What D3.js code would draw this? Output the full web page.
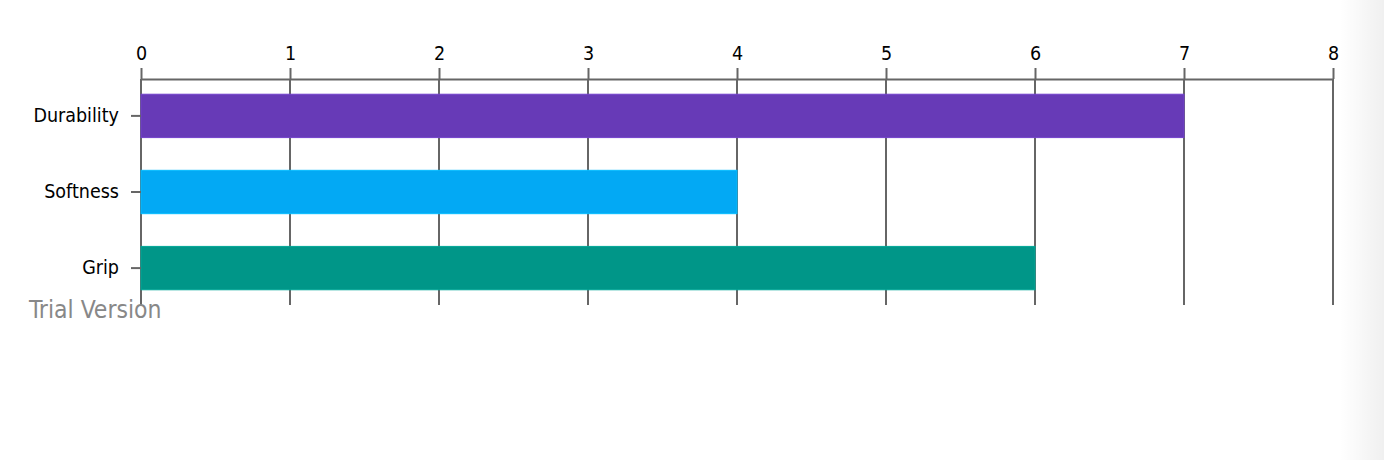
<!DOCTYPE html>
<meta charset="utf-8">
<style>
body { margin: 0; background: #fff; }
svg { display: block; }
svg text { font-family: "DejaVu Sans Condensed", "DejaVu Sans", sans-serif; }
.axis path, .axis line { stroke: #666; stroke-width: 2px; }
.axis text { fill: #000; font-size: 19.5px; }
.grid line { stroke: #666; stroke-width: 2px; }
</style>
<svg width="1384" height="460"></svg>
<script src="https://d3js.org/d3.v7.min.js"></script>
<script>
var categories = ["Durability", "Softness", "Grip"];
var values = [7, 4, 6];
var colors = ["#673AB7", "#03A9F4", "#009688"];
var xTicks = [0, 1, 2, 3, 4, 5, 6, 7, 8];

var svg = d3.select("svg"),
    plotLeft = 141, plotRight = 1333, plotTop = 79, plotBottom = 305;

// page edge shadow on the right
var defs = svg.append("defs");
var grad = defs.append("linearGradient").attr("id", "edge");
grad.append("stop").attr("offset", "0%").attr("stop-color", "#000").attr("stop-opacity", 0);
grad.append("stop").attr("offset", "100%").attr("stop-color", "#000").attr("stop-opacity", 0.06);
svg.append("rect").attr("x", 1340).attr("y", 0).attr("width", 44).attr("height", 460)
    .attr("fill", "url(#edge)");

var x = d3.scaleLinear().domain([0, 8]).range([plotLeft, plotRight]);
var y = d3.scaleBand().domain(categories).range([plotTop, plotBottom]).paddingInner(0.43).paddingOuter(0.2);

// grid lines
svg.append("g")
    .attr("class", "grid")
    .selectAll("line")
    .data(xTicks)
    .enter().append("line")
      .attr("x1", d => x(d)).attr("x2", d => x(d))
      .attr("y1", plotTop).attr("y2", plotBottom);

svg.append("g")
    .attr("class", "axis")
    .attr("transform", "translate(0," + plotTop + ")")
    .call(d3.axisTop(x).tickValues(xTicks).tickSize(11).tickSizeOuter(0).tickPadding(8));

svg.append("g")
    .selectAll("rect")
    .data(categories)
    .enter().append("rect")
      .attr("x", x(0))
      .attr("y", d => y(d))
      .attr("width", (d, i) => x(values[i]) - x(0))
      .attr("height", y.bandwidth())
      .attr("fill", (d, i) => colors[i])
      .attr("stroke", (d, i) => d3.color(colors[i]).brighter(0.3))
      .attr("stroke-width", 1);

var yAxis = svg.append("g")
    .attr("class", "axis")
    .attr("transform", "translate(" + plotLeft + ",0)")
    .call(d3.axisLeft(y).tickSize(10).tickSizeOuter(0).tickPadding(12));
yAxis.select(".domain").remove();
yAxis.selectAll("line").attr("stroke-width", 1.5);

svg.append("text")
    .attr("x", 29).attr("y", 318)
    .attr("fill", "#888")
    .attr("font-size", "24.5px")
    .text("Trial Version");
</script>
